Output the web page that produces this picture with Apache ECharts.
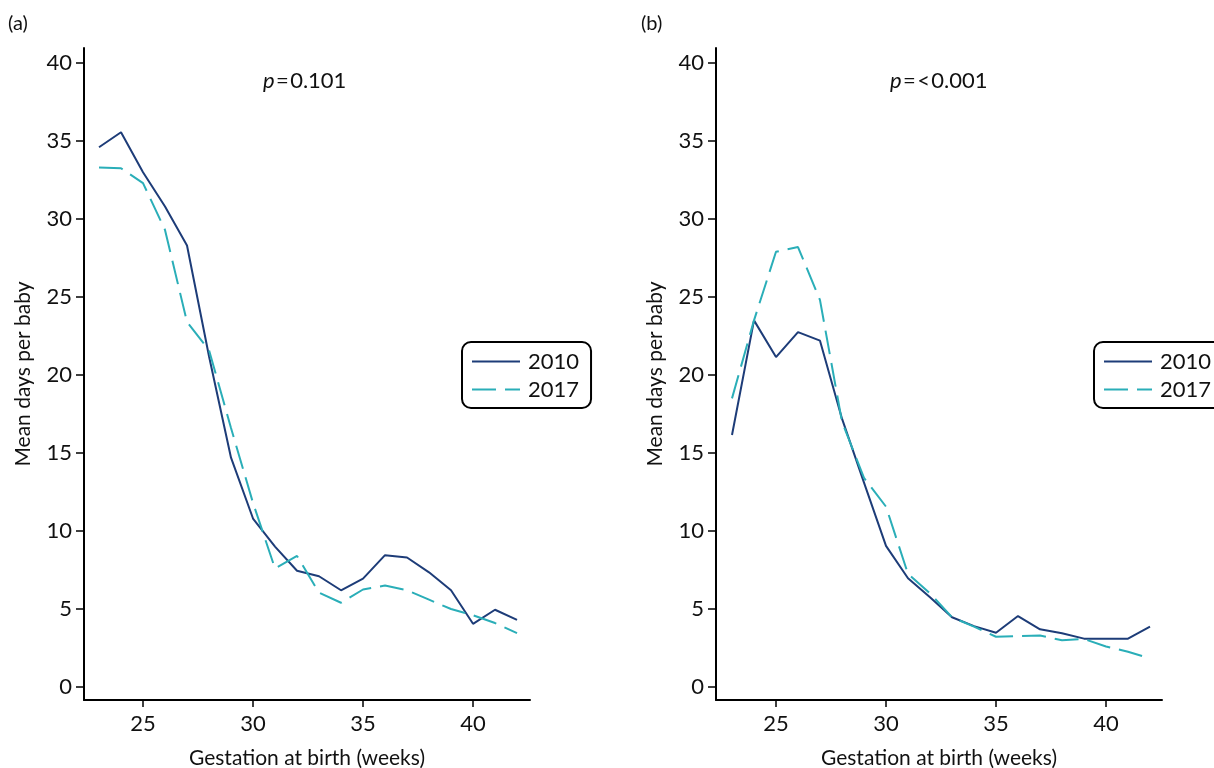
<!DOCTYPE html>
<html>
<head>
<meta charset="utf-8">
<script src="https://cdn.jsdelivr.net/npm/echarts@6/dist/echarts.min.js"></script>
<style>html,body{margin:0;padding:0;background:#fff;}#c{width:1214px;height:768px;}</style>
</head>
<body>
<div id="c"></div>
<script>
const weeks = [23,24,25,26,27,28,29,30,31,32,33,34,35,36,37,38,39,40,41,42];
const a2010 = [34.6,35.56,33.0,30.8,28.3,21.2,14.7,10.8,9.0,7.45,7.1,6.2,6.95,8.45,8.3,7.35,6.2,4.05,4.95,4.3];
const a2017 = [33.3,33.25,32.3,29.3,23.4,21.6,16.6,11.8,7.6,8.4,6.05,5.4,6.25,6.5,6.2,5.6,5.0,4.6,4.1,3.45];
const b2010 = [16.15,23.5,21.15,22.75,22.2,17.2,13.1,9.05,6.97,5.75,4.47,3.9,3.48,4.55,3.7,3.45,3.1,3.1,3.1,3.87];
const b2017 = [18.5,23.5,27.9,28.2,24.8,17.0,13.4,11.56,7.25,6.0,4.47,3.87,3.22,3.27,3.3,3.0,3.08,2.6,2.26,1.84];
const xTicks = [25,30,35,40];
const yTicks = [0,5,10,15,20,25,30,35,40];
const seriesNames = ['2010','2017'];
const panelLabels = ['(a)','(b)'];
const pLabels = ['\u200a=\u200a0.101','\u200a=\u200a<\u200a0.001'];

const NAVY = '#1d3c78', TEAL = '#2aaeb8';
const FONT = 'Lato';
const txt = '#111';

function pairs(v){ return weeks.map((w,i)=>[w,v[i]]); }

function xAxis(gi, min, max){
  return {
    type:'value', gridIndex:gi, min:min, max:max,
    name:'Gestation at birth (weeks)', nameLocation:'middle', nameGap:48,
    nameTextStyle:{fontFamily:FONT,fontSize:21,color:txt},
    axisLine:{show:true,onZero:false,lineStyle:{color:'#000',width:2}},
    axisTick:{show:true,length:7,lineStyle:{color:'#000',width:1.5},customValues:xTicks},
    axisLabel:{fontFamily:FONT,fontSize:22,color:txt,margin:13,customValues:xTicks},
    splitLine:{show:false}
  };
}
function yAxis(gi){
  return {
    type:'value', gridIndex:gi, min:-0.833, max:40.96,
    name:'Mean days per baby', nameLocation:'middle', nameGap:50, nameRotate:90,
    nameTextStyle:{fontFamily:FONT,fontSize:21,color:txt},
    axisLine:{show:true,onZero:false,lineStyle:{color:'#000',width:2}},
    axisTick:{show:true,length:8,lineStyle:{color:'#000',width:1.5},customValues:yTicks},
    axisLabel:{fontFamily:FONT,fontSize:22,color:txt,margin:12,customValues:yTicks},
    splitLine:{show:false}
  };
}
function line(name, data, xi, dashed){
  return {
    type:'line', name:name, xAxisIndex:xi, yAxisIndex:xi, data:pairs(data),
    symbol:'none', silent:true, animation:false,
    lineStyle:{color: dashed?TEAL:NAVY, width:2, type: dashed?[24,9]:'solid'},
    itemStyle:{color: dashed?TEAL:NAVY}
  };
}
function legend(left){
  return {
    orient:'vertical', left:left, top:342, data:seriesNames,
    itemWidth:48, itemHeight:14, itemGap:5,
    padding:[8,12,7,9], borderColor:'#000', borderWidth:2, borderRadius:9,
    itemStyle:{opacity:0},
    textStyle:{fontFamily:FONT,fontSize:22,lineHeight:23,color:txt,padding:[0,0,0,3]},
    selectedMode:false
  };
}
function ptext(cx, s){
  return {
    type:'text', left:cx, top:70,
    style:{
      text:'{i|p}{n|' + s + '}',
      rich:{ i:{fontFamily:FONT,fontSize:22,fontStyle:'italic',fill:txt}, n:{fontFamily:FONT,fontSize:22,fill:txt} }
    }
  };
}

const chart = echarts.init(document.getElementById('c'), null, {renderer:'canvas'});
chart.setOption({
  animation:false,
  backgroundColor:'#fff',
  grid:[
    {left:84, top:48, width:446, height:652, outerBoundsMode:'none', containLabel:false},
    {left:716, top:48, width:446, height:652, outerBoundsMode:'none', containLabel:false}
  ],
  xAxis:[ xAxis(0, 22.318, 42.59), xAxis(1, 22.273, 42.545) ],
  yAxis:[ yAxis(0), yAxis(1) ],
  legend:[ legend(462), legend(1094) ],
  series:[
    line(seriesNames[0], a2010, 0, false),
    line(seriesNames[1], a2017, 0, true),
    line(seriesNames[0], b2010, 1, false),
    line(seriesNames[1], b2017, 1, true)
  ],
  graphic:[
    {type:'text', left:8, top:14, style:{text:panelLabels[0], fontFamily:FONT, fontSize:20, fill:txt}},
    {type:'text', left:641, top:14, style:{text:panelLabels[1], fontFamily:FONT, fontSize:20, fill:txt}},
    ptext(263, pLabels[0]),
    ptext(890, pLabels[1])
  ]
});
</script>
</body>
</html>
